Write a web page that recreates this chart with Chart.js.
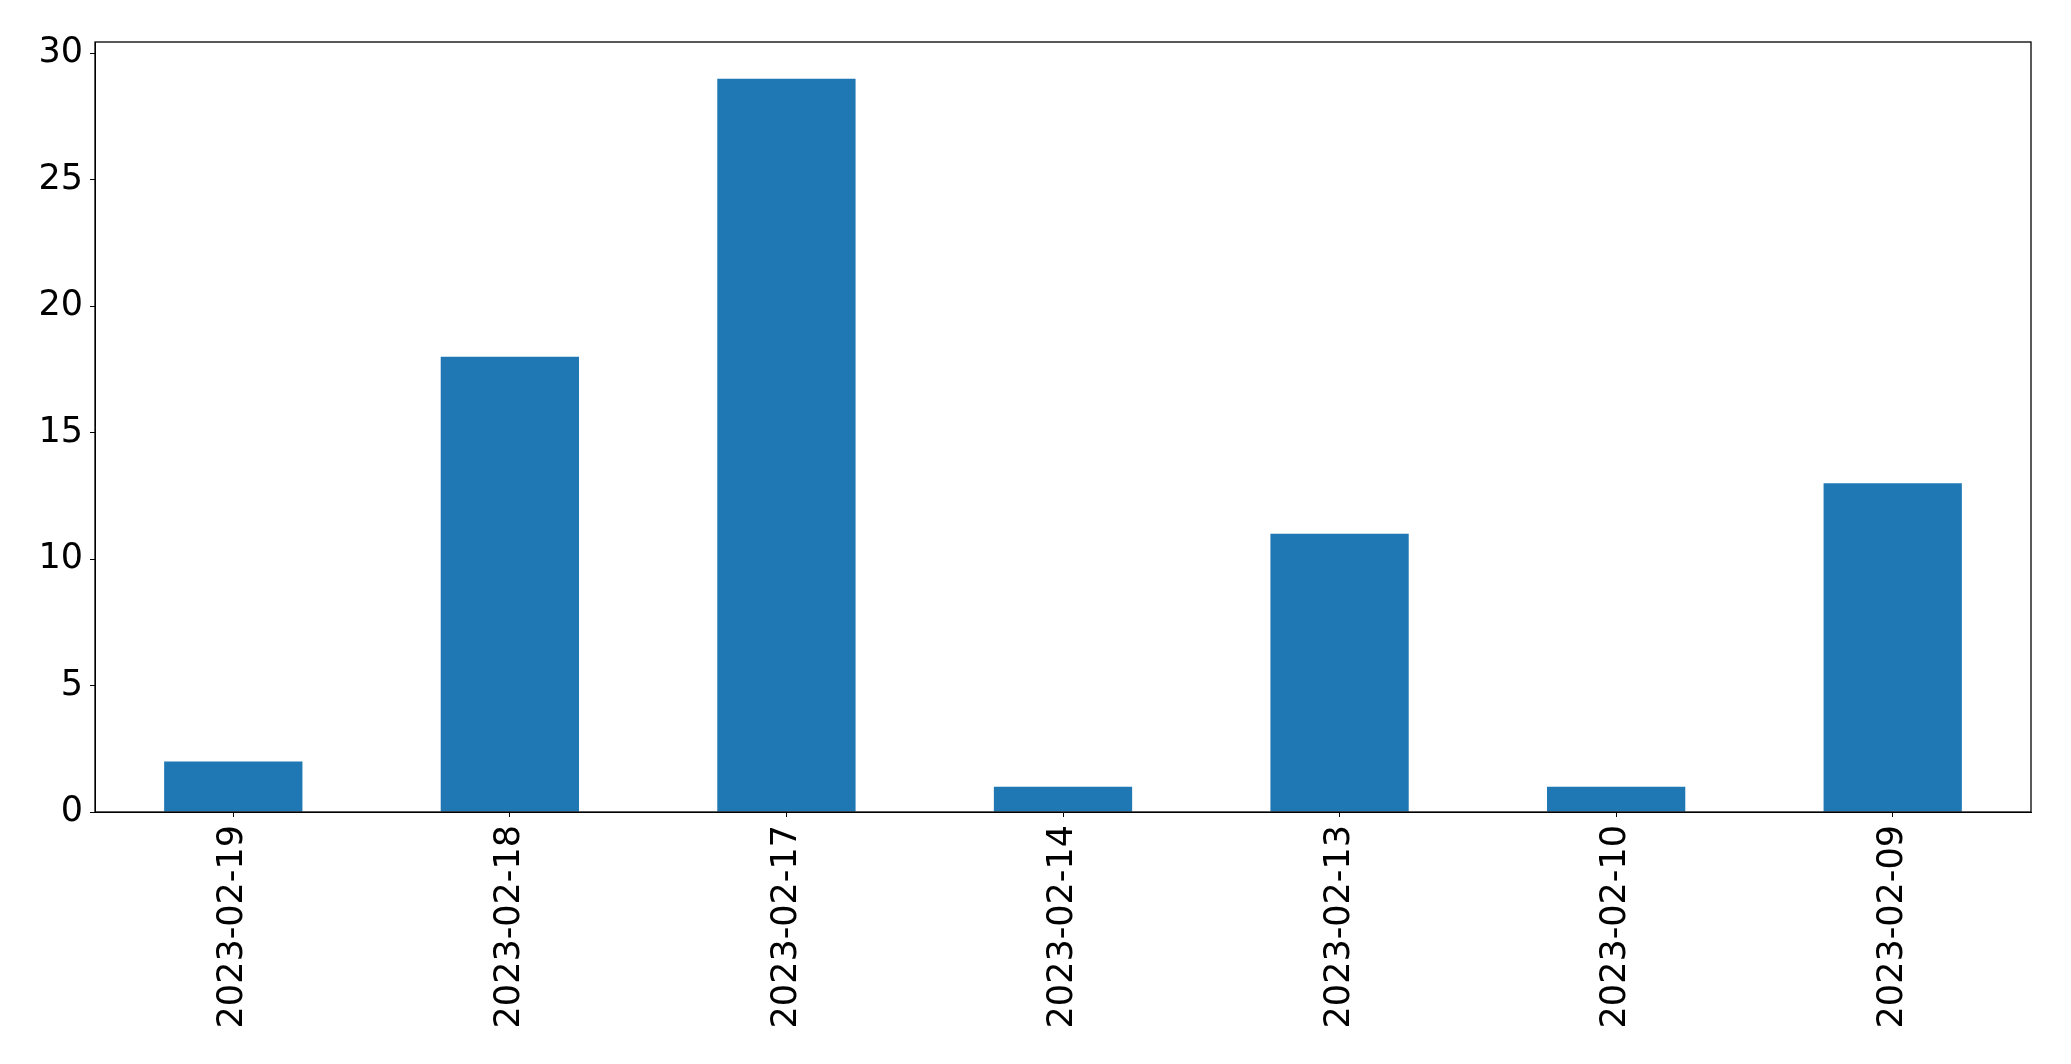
<!DOCTYPE html>
<html>
<head>
<meta charset="utf-8">
<script src="https://cdn.jsdelivr.net/npm/chart.js@4"></script>
<style>
  html, body { margin: 0; padding: 0; background: #fff; }
  #wrap { width: 2071px; height: 1064px; }
</style>
</head>
<body>
<div id="wrap"><canvas id="barChart" width="2071" height="1064"></canvas></div>
<script>
const dates = ['2023-02-19', '2023-02-18', '2023-02-17', '2023-02-14', '2023-02-13', '2023-02-10', '2023-02-09']
const counts = [2, 18, 29, 1, 11, 1, 13]
const yTicks = [0, 5, 10, 15, 20, 25, 30]

// box around the plot area, like matplotlib spines
const frame = {
  id: 'frame',
  afterDraw(chart) {
    const { ctx, chartArea: a } = chart
    ctx.save()
    ctx.strokeStyle = '#000'
    ctx.lineWidth = 1.3
    ctx.strokeRect(a.left, a.top, a.right - a.left, a.bottom - a.top)
    ctx.restore()
  }
}

Chart.defaults.font.family = 'DejaVu Sans'
Chart.defaults.color = '#000'

new Chart(document.getElementById('barChart'), {
  type: 'bar',
  data: {
    labels: dates,
    datasets: [{
      data: counts,
      backgroundColor: '#1f77b4',
      borderWidth: 0,
      categoryPercentage: 0.5,
      barPercentage: 1.0
    }]
  },
  options: {
    responsive: false,
    animation: false,
    layout: { padding: { top: 42, right: 40, left: 0, bottom: 0 } },
    plugins: { legend: { display: false }, tooltip: { enabled: false } },
    scales: {
      x: {
        offset: true,
        grid: { display: true, offset: false, drawOnChartArea: false, drawTicks: true, tickLength: 5, color: '#000' },
        border: { display: true, color: '#000' },
        ticks: { minRotation: 90, maxRotation: 90, padding: 8, font: { size: 35 } },
        afterFit(scale) { scale.height = 252 }
      },
      y: {
        min: 0,
        max: 30.45,
        grid: { display: true, drawOnChartArea: false, drawTicks: true, tickLength: 5, color: '#000' },
        border: { display: true, color: '#000' },
        ticks: { padding: 7, font: { size: 35 } },
        afterBuildTicks(scale) { scale.ticks = yTicks.map(v => ({ value: v })) },
        afterFit(scale) { scale.width = 95 }
      }
    }
  },
  plugins: [frame]
})
</script>
</body>
</html>
